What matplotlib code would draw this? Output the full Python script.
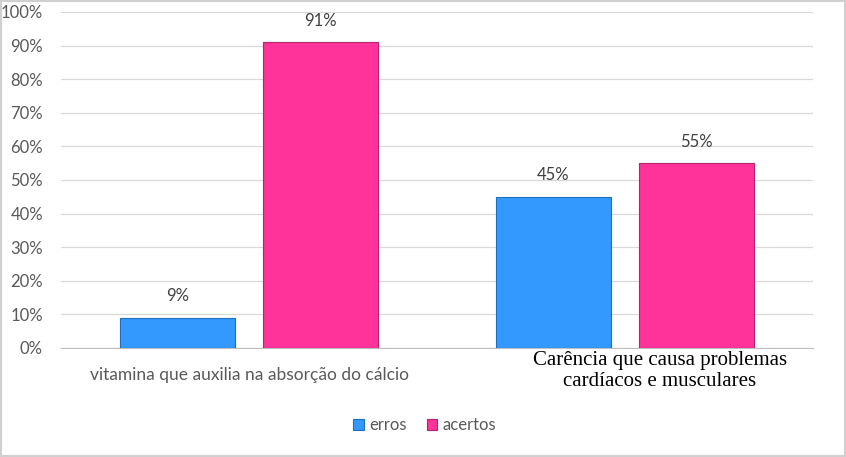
import matplotlib
matplotlib.use("Agg")
import matplotlib.pyplot as plt
from matplotlib.patches import Rectangle
import numpy as np

categories = ["vitamina que auxilia na absorção do cálcio",
              "Carência que causa problemas\ncardíacos e musculares"]
series_names = ["erros", "acertos"]
erros = [9, 45]
acertos = [91, 55]
yticks = [0, 10, 20, 30, 40, 50, 60, 70, 80, 90, 100]

blue = "#3399FF"
pink = "#FF3399"

fig = plt.figure(figsize=(8.46, 4.57), dpi=100)
ax = fig.add_axes([61/846, 1 - 348/457, (813-61)/846, (348-12)/457])

x = np.arange(len(categories))
w = 0.308
gap = 0.072
b1 = ax.bar(x - (w+gap)/2, erros, w, color=blue, edgecolor="#1F6FBF", linewidth=0.8, label=series_names[0], zorder=3)
b2 = ax.bar(x + (w+gap)/2, acertos, w, color=pink, edgecolor="#B3246B", linewidth=0.8, label=series_names[1], zorder=3)

for bars, vals in ((b1, erros), (b2, acertos)):
    for r, v in zip(bars, vals):
        ax.text(r.get_x() + r.get_width()/2, v + 4, f"{v}%", ha="center", va="bottom",
                fontsize=12, color="#404040", family="Lato")

ax.set_xlim(-0.5, 1.5)
ax.set_ylim(0, 100)
ax.set_yticks(yticks)
ax.set_yticklabels([f"{t}%" for t in yticks], fontsize=12, color="#595959", family="Lato")
ax.yaxis.grid(True, color="#D9D9D9", linewidth=0.9, zorder=0)
ax.set_axisbelow(True)
for s in ("top", "right", "left"):
    ax.spines[s].set_visible(False)
ax.spines["bottom"].set_color("#BFBFBF")
ax.tick_params(axis="y", length=0, pad=13)
ax.tick_params(axis="x", length=0)
ax.set_xticks([])

ax.text(0.0, -5.8, categories[0], ha="center", va="top", fontsize=12.5,
        color="#595959", family="Lato", transform=ax.transData)
ax.text(1.092, -0.8, categories[1], ha="center", va="top", fontsize=15,
        color="black", family="Liberation Serif", linespacing=1.2, transform=ax.transData)

leg = fig.legend(handles=[b1, b2], labels=series_names, loc="center",
                 bbox_to_anchor=(0.502, 1 - 425/457), ncol=2, frameon=False,
                 prop={"family": "Lato", "size": 12}, handlelength=0.65, handleheight=0.65,
                 columnspacing=1.2, handletextpad=0.3)
for t in leg.get_texts():
    t.set_color("#595959")

fig.patches.append(Rectangle((0, 0), 1, 1, transform=fig.transFigure, fill=False,
                             edgecolor="#D0D0D0", linewidth=3))

fig.savefig("out.png", dpi=100)
